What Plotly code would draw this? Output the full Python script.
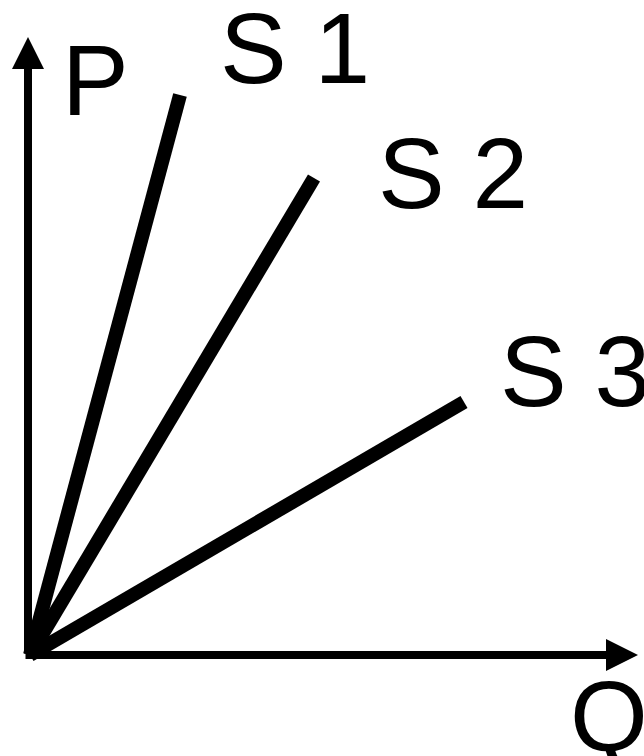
import plotly.graph_objects as go

# supply curves, all from the origin (Q, P units = pixels of the sketch)
curve_names = ["S 1", "S 2", "S 3"]
q_end = [150, 284, 434]
p_end = [560, 477, 253]

# label anchor points (left / middle of text)
label_q = [189, 347, 469]
label_p = [607, 482, 284]

axis_q_max = 608
axis_p_max = 618

FONT = dict(family="Liberation Sans, Arial", size=100, color="black")

fig = go.Figure()

for name, q, p in zip(curve_names, q_end, p_end):
    fig.add_trace(go.Scatter(
        x=[0, q], y=[0, p], mode="lines", name=name,
        line=dict(color="black", width=14),
        hoverinfo="skip",
    ))

for name, q, p in zip(curve_names, label_q, label_p):
    fig.add_annotation(
        x=q, y=p, text=name, showarrow=False,
        xanchor="left", yanchor="middle", borderpad=0, font=FONT,
    )

# axes with arrowheads
for tip_x, tip_y, base_x in [(-2, axis_p_max, -2), (axis_q_max, 0, -6)]:
    fig.add_annotation(
        x=tip_x, y=tip_y, ax=base_x, ay=0, axref="x", ayref="y",
        xref="x", yref="y", text="", showarrow=True,
        arrowhead=2, arrowwidth=8, arrowsize=0.8, arrowcolor="black",
        standoff=0, startstandoff=0,
    )

fig.add_annotation(
    x=31, y=575, text="P", showarrow=False,
    xanchor="left", yanchor="middle", borderpad=0, font=FONT,
)
fig.add_annotation(
    x=539, y=-61, text="Q", showarrow=False,
    xanchor="left", yanchor="middle", borderpad=0, font=FONT,
)

fig.update_layout(
    width=644, height=756,
    margin=dict(l=0, r=0, t=0, b=0),
    paper_bgcolor="white", plot_bgcolor="white",
    showlegend=False,
    xaxis=dict(range=[-30, 614], visible=False, fixedrange=True),
    yaxis=dict(range=[-101, 655], visible=False, fixedrange=True),
)

fig.write_html(
    "out.html",
    config={"displayModeBar": False},
    post_script="document.body.style.margin='0';document.body.style.overflow='hidden';",
)
